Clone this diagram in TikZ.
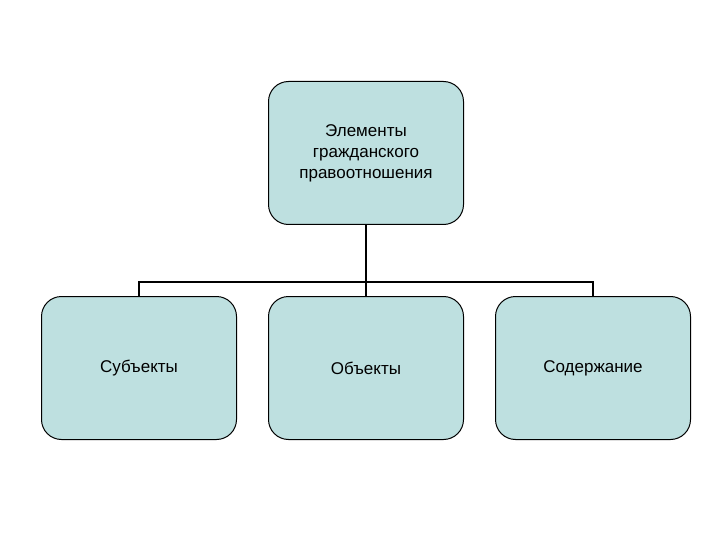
\documentclass[tikz,border=0pt]{standalone}
\usepackage{fontspec}
\setmainfont{Liberation Sans}
\definecolor{boxfill}{RGB}{190,224,224}
\begin{document}
\begin{tikzpicture}[x=1pt,y=-1pt,
  box/.style={draw=black,line width=1pt,fill=boxfill,rounded corners=20pt,minimum width=195pt,minimum height=143pt,align=center,font=\fontsize{17}{21}\selectfont,inner sep=0pt},
  link/.style={draw=black,line width=1.8pt}]
\useasboundingbox (0,0) rectangle (720,540);
\node[box] (top) at (366,153) {Элементы\\гражданского\\правоотношения};
\node[box] (a) at (139,368) {Субъекты};
\node[box] (b) at (366,368) {Объекты};
\node[box] (c) at (593,368) {Содержание};
\coordinate (j) at (366,282);
\draw[link,line width=2.5pt] (top.south) -- (j);
\draw[link] (a.north) -- (a.north |- j) -- (c.north |- j) -- (c.north);
\draw[link] (j) -- (b.north);
\end{tikzpicture}
\end{document}
